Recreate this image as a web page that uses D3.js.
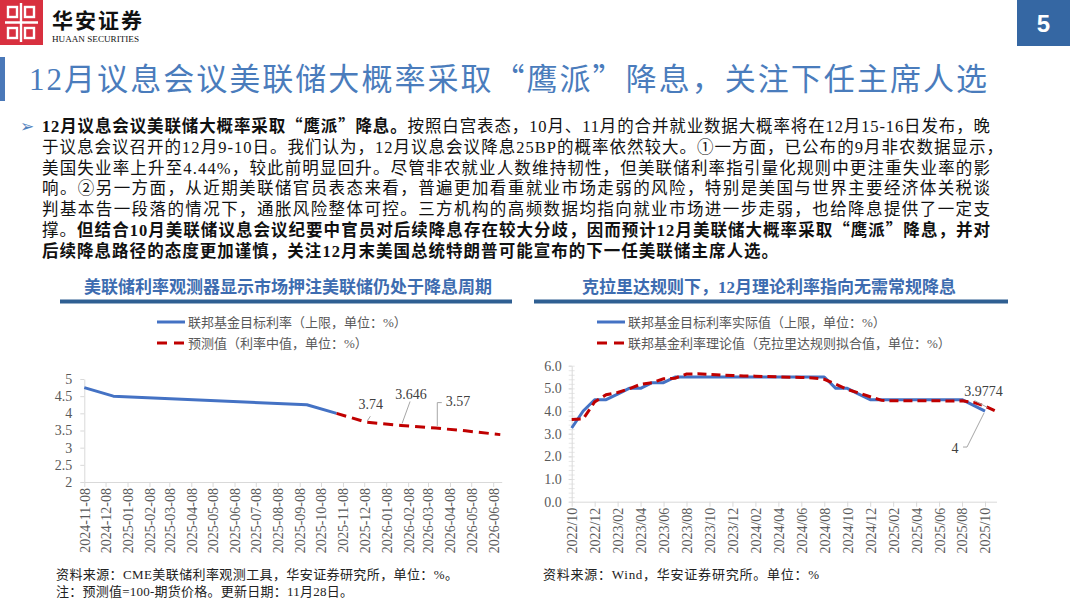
<!DOCTYPE html>
<html><head><meta charset="utf-8">
<script src="https://cdn.jsdelivr.net/npm/d3@7"></script>
<style>body{margin:0;background:#fff}svg{display:block}</style>
</head><body><svg id="c" width="1070" height="603"></svg>
<script>
// ---------- data ----------
const fedDates = ["2024-11-08","2024-12-19","2025-09-18","2025-10-30"];
const fedRate  = [4.75, 4.5, 4.25, 4.0];
const fcstDates = ["2025-10-30","2025-12-11","2026-01-29","2026-03-19","2026-04-30","2026-06-18"];
const fcstRate  = [4.0, 3.74, 3.646, 3.57, 3.49, 3.38];
const leftXTicks = ["2024-11-08","2024-12-08","2025-01-08","2025-02-08","2025-03-08","2025-04-08","2025-05-08","2025-06-08","2025-07-08","2025-08-08","2025-09-08","2025-10-08","2025-11-08","2025-12-08","2026-01-08","2026-02-08","2026-03-08","2026-04-08","2026-05-08","2026-06-08"];
const leftYTicks = [5, 4.5, 4, 3.5, 3, 2.5, 2];

const months = ["2022/10","2022/11","2022/12","2023/01","2023/02","2023/03","2023/04","2023/05","2023/06","2023/07","2023/08","2023/09","2023/10","2023/11","2023/12","2024/01","2024/02","2024/03","2024/04","2024/05","2024/06","2024/07","2024/08","2024/09","2024/10","2024/11","2024/12","2025/01","2025/02","2025/03","2025/04","2025/05","2025/06","2025/07","2025/08","2025/09","2025/10","2025/11"];
const actualRate = [3.25,4.0,4.5,4.5,4.75,5.0,5.0,5.25,5.25,5.5,5.5,5.5,5.5,5.5,5.5,5.5,5.5,5.5,5.5,5.5,5.5,5.5,5.5,5.0,5.0,4.75,4.5,4.5,4.5,4.5,4.5,4.5,4.5,4.5,4.5,4.25,4.0];
const claridaRate = [3.63,3.65,4.40,4.72,4.82,4.98,5.18,5.25,5.42,5.45,5.63,5.64,5.62,5.59,5.57,5.55,5.54,5.52,5.51,5.49,5.48,5.46,5.40,5.18,4.95,4.80,4.63,4.47,4.45,4.45,4.45,4.45,4.45,4.44,4.45,4.38,4.22,3.9774];
const rightXTicks = ["2022/10","2022/12","2023/02","2023/04","2023/06","2023/08","2023/10","2023/12","2024/02","2024/04","2024/06","2024/08","2024/10","2024/12","2025/02","2025/04","2025/06","2025/08","2025/10"];
const rightYTicks = [0,1,2,3,4,5,6];

// ---------- setup ----------
const svg = d3.select("#c");
const CJK = "'Noto Sans CJK SC', sans-serif";
const MIX = "'Liberation Serif', 'Noto Sans CJK SC', serif";
const SERIF = "'Liberation Serif', serif";
const BLUE = "#4472C4", RED = "#C00000";
const parse = d3.utcParse("%Y-%m-%d");

// append text with full-width quotes rendered in CJK font
function richText(t, str){
  str.split(/([“”])/).forEach(s=>{
    if(!s) return;
    const sp = t.append("tspan").text(s);
    if(s==="“"||s==="”") sp.attr("font-family",CJK);
  });
}

// ---------- header ----------
svg.append("rect").attr("x",0).attr("y",0).attr("width",43).attr("height",45).attr("fill","#d8303f");
const lg = svg.append("g").attr("fill","none").attr("stroke","#fff").attr("stroke-width",2.4);
lg.append("rect").attr("x",8).attr("y",7).attr("width",9).attr("height",10);
lg.append("rect").attr("x",25).attr("y",7).attr("width",9).attr("height",10);
lg.append("rect").attr("x",8).attr("y",28).attr("width",9).attr("height",10);
lg.append("rect").attr("x",25).attr("y",28).attr("width",9).attr("height",10);
lg.append("line").attr("x1",5).attr("x2",38).attr("y1",22.5).attr("y2",22.5);
lg.append("line").attr("x1",21).attr("x2",21).attr("y1",3).attr("y2",42);
svg.append("text").attr("x",52).attr("y",27.5).attr("font-family",CJK).attr("font-size",21).attr("font-weight","bold")
  .attr("textLength",90).attr("lengthAdjust","spacing").attr("fill","#111").text("华安证券");
svg.append("text").attr("x",52).attr("y",42).attr("font-family",SERIF).attr("font-size",9)
  .attr("textLength",87).attr("lengthAdjust","spacingAndGlyphs").attr("fill","#111").text("HUAAN SECURITIES");
svg.append("rect").attr("x",1017).attr("y",0).attr("width",53).attr("height",46).attr("fill","#3567a3");
svg.append("text").attr("x",1043.5).attr("y",32).attr("text-anchor","middle").attr("font-family","'Liberation Sans', Arial, sans-serif")
  .attr("font-weight","bold").attr("font-size",24).attr("fill","#fff").text("5");

// title
svg.append("rect").attr("x",0).attr("y",57).attr("width",5).attr("height",44).attr("fill","#4a78b8");
{
  const t = svg.append("text").attr("x",29).attr("y",90).attr("font-family",MIX).attr("font-size",31).attr("fill","#4a7cbc")
    .attr("textLength",958).attr("lengthAdjust","spacing");
  richText(t, "12月议息会议美联储大概率采取“鹰派”降息，关注下任主席人选");
}

// body text
svg.append("text").attr("x",20).attr("y",132).attr("font-family","'DejaVu Sans', sans-serif").attr("font-size",17).attr("fill","#4F81BD").text("➢");
const bodyLines = [
  [[1,"12月议息会议美联储大概率采取“鹰派”降息。"],[0,"按照白宫表态，10月、11月的合并就业数据大概率将在12月15-16日发布，晚"]],
  [[0,"于议息会议召开的12月9-10日。我们认为，12月议息会议降息25BP的概率依然较大。①一方面，已公布的9月非农数据显示，"]],
  [[0,"美国失业率上升至4.44%，较此前明显回升。尽管非农就业人数维持韧性，但美联储利率指引量化规则中更注重失业率的影"]],
  [[0,"响。②另一方面，从近期美联储官员表态来看，普遍更加看重就业市场走弱的风险，特别是美国与世界主要经济体关税谈"]],
  [[0,"判基本告一段落的情况下，通胀风险整体可控。三方机构的高频数据均指向就业市场进一步走弱，也给降息提供了一定支"]],
  [[0,"撑。"],[1,"但结合10月美联储议息会议纪要中官员对后续降息存在较大分歧，因而预计12月美联储大概率采取“鹰派”降息，并对"]],
  [[1,"后续降息路径的态度更加谨慎，关注12月末美国总统特朗普可能宣布的下一任美联储主席人选。"]]
];
const lineLens = [948, 961, 948, 948, 948, 948, 736];
bodyLines.forEach((ln,i)=>{
  const t = svg.append("text").attr("x",42).attr("y",132+i*20.8).attr("font-family",MIX).attr("font-size",16.5)
    .attr("fill","#111").attr("textLength",lineLens[i]).attr("lengthAdjust","spacing");
  ln.forEach(s=>{
    const g = t.append("tspan").attr("font-weight",s[0]?"bold":"normal");
    richText(g, s[1]);
  });
});

// ---------- chart titles ----------
function chartHeader(cx, title, barX, barW){
  svg.append("text").attr("x",cx).attr("y",293).attr("text-anchor","middle").attr("font-family",MIX)
    .attr("font-size",17).attr("font-weight","bold").attr("fill","#3d6cb0").text(title);
  svg.append("rect").attr("x",barX).attr("y",299.5).attr("width",barW).attr("height",4).attr("fill","#2f5f92");
}
chartHeader(288, "美联储利率观测器显示市场押注美联储仍处于降息周期", 60, 452);
chartHeader(769, "克拉里达规则下，12月理论利率指向无需常规降息", 534, 474);

function legend(x, y, label, color, dash){
  svg.append("line").attr("x1",x).attr("x2",x+28).attr("y1",y).attr("y2",y).attr("stroke",color).attr("stroke-width",3)
    .attr("stroke-dasharray",dash||null);
  svg.append("text").attr("x",x+31).attr("y",y+4.5).attr("font-family",MIX).attr("font-size",13).attr("fill","#595959").text(label);
}
legend(157, 322, "联邦基金目标利率（上限，单位：%）", BLUE);
legend(157, 343, "预测值（利率中值，单位：%）", RED, "10,7");
legend(597, 322, "联邦基金目标利率实际值（上限，单位：%）", BLUE);
legend(597, 343, "联邦基金利率理论值（克拉里达规则拟合值，单位：%）", RED, "10,7");

function styleAxis(g){
  g.selectAll("path.domain").attr("stroke","#d9d9d9");
  g.selectAll(".tick line").attr("stroke","#d9d9d9");
  g.selectAll(".tick text").attr("fill","#595959").attr("font-family",SERIF).attr("font-size",14);
}

// ---------- left chart ----------
const xL = d3.scaleUtc().domain([parse("2024-11-08"), parse("2026-06-20")]).range([84.3, 501.7]);
const yL = d3.scaleLinear().domain([2,5]).range([482,379]);
const gyL = svg.append("g").attr("transform","translate(84.3,0)")
  .call(d3.axisLeft(yL).tickValues(leftYTicks).tickFormat(d3.format("")).tickSize(4).tickSizeOuter(0).tickPadding(8));
styleAxis(gyL);
const gxL = svg.append("g").attr("transform","translate(0,482)")
  .call(d3.axisBottom(xL).tickValues(leftXTicks.map(parse)).tickFormat(d3.utcFormat("%Y-%m-%d")).tickSize(5).tickSizeOuter(0));
styleAxis(gxL);
gxL.selectAll(".tick text").attr("transform","rotate(-90)").attr("text-anchor","end").attr("x",-6).attr("y",0).attr("dy","0.35em");

const lineL = d3.line().x(d=>xL(d[0])).y(d=>yL(d[1]));
svg.append("path").datum(fedDates.map((d,i)=>[parse(d),fedRate[i]])).attr("d",lineL)
  .attr("fill","none").attr("stroke",BLUE).attr("stroke-width",3).attr("stroke-linejoin","round");
svg.append("path").datum(fcstDates.map((d,i)=>[parse(d),fcstRate[i]])).attr("d",lineL)
  .attr("fill","none").attr("stroke",RED).attr("stroke-width",3).attr("stroke-dasharray","10,6");

function annoText(x,y,txt,anchor){
  svg.append("text").attr("x",x).attr("y",y).attr("text-anchor",anchor||"middle").attr("font-family",SERIF)
    .attr("font-size",14).attr("fill","#404040").text(txt);
}
function leader(pts){
  svg.append("path").attr("d",d3.line()(pts)).attr("fill","none").attr("stroke","#a6a6a6").attr("stroke-width",1);
}
// 3.74
{ const px=xL(parse(fcstDates[1])), py=yL(fcstRate[1]);
  annoText(px+4.5, py-13.5, "3.74"); leader([[px+1,py-1.5],[px+4,py-6]]); }
// 3.646
{ const px=xL(parse(fcstDates[2])), py=yL(fcstRate[2]);
  annoText(px+10, py-26.5, "3.646"); leader([[px+1,py-2],[px+9,py-24]]); }
// 3.57
{ const px=xL(parse(fcstDates[3])), py=yL(fcstRate[3]);
  annoText(px+10, py-22, "3.57","start"); leader([[px+1.5,py-2],[px+1.5,py-25.5],[px+6,py-25.5]]); }

// ---------- right chart ----------
const xR = d3.scalePoint().domain(months).range([571.7, 996.5]);
const yR = d3.scaleLinear().domain([0,6]).range([501.7,365.7]);
const gMinor = svg.append("g").attr("transform","translate(574.7,0)")
  .call(d3.axisLeft(yR).tickValues(d3.range(0,6.001,0.2)).tickFormat("").tickSize(6).tickSizeOuter(0));
gMinor.selectAll("path.domain").remove();
gMinor.selectAll(".tick line").attr("stroke","#e6e6e6");
const gyR = svg.append("g").attr("transform","translate(571.7,0)")
  .call(d3.axisLeft(yR).tickValues(rightYTicks).tickFormat(d3.format(".1f")).tickSize(3).tickSizeOuter(0).tickPadding(7));
styleAxis(gyR);
const gxR = svg.append("g").attr("transform","translate(0,501.7)")
  .call(d3.axisBottom(xR).tickValues(rightXTicks).tickSize(5).tickSizeOuter(0));
styleAxis(gxR);
gxR.selectAll(".tick text").attr("transform","rotate(-90)").attr("text-anchor","end").attr("x",-6).attr("y",0).attr("dy","0.35em");

const lineR = d3.line().x(d=>xR(d[0])).y(d=>yR(d[1]));
svg.append("path").datum(actualRate.map((v,i)=>[months[i],v])).attr("d",lineR)
  .attr("fill","none").attr("stroke",BLUE).attr("stroke-width",3).attr("stroke-linejoin","round");
svg.append("path").datum(claridaRate.map((v,i)=>[months[i],v])).attr("d",lineR)
  .attr("fill","none").attr("stroke",RED).attr("stroke-width",3).attr("stroke-dasharray","9,5");

{ const n=claridaRate.length-1, px=xR(months[n]), py=yR(claridaRate[n]);
  annoText(px-13, py-15.5, "3.9774"); leader([[px-22,py-11],[px-9,py-4]]); }
{ const n=actualRate.length-1, px=xR(months[n]), py=yR(actualRate[n]);
  annoText(px-30, py+42, "4"); leader([[px-22,py+36],[px-18,py+36],[px-1,py+2]]); }

// ---------- sources ----------
svg.append("text").attr("x",56).attr("y",578.5).attr("font-family",MIX).attr("font-size",13).attr("fill","#222")
  .attr("textLength",402).attr("lengthAdjust","spacing").text("资料来源：CME美联储利率观测工具，华安证券研究所，单位：%。");
svg.append("text").attr("x",56).attr("y",596).attr("font-family",MIX).attr("font-size",13).attr("fill","#222")
  .attr("textLength",297).attr("lengthAdjust","spacing").text("注：预测值=100-期货价格。更新日期：11月28日。");
svg.append("text").attr("x",543).attr("y",579).attr("font-family",MIX).attr("font-size",13).attr("fill","#222")
  .attr("textLength",276).attr("lengthAdjust","spacing").text("资料来源：Wind，华安证券研究所。单位：%");
</script></body></html>
